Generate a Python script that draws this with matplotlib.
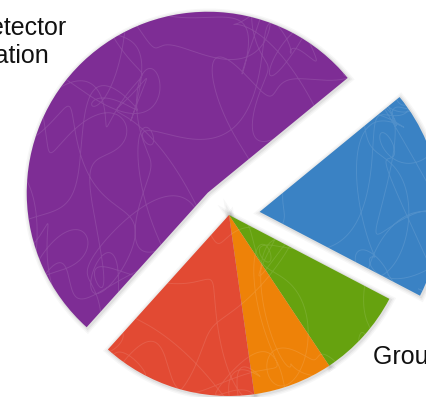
"""Share of group time, pie with two pulled-out slices."""

import matplotlib
matplotlib.use("Agg")
import matplotlib.pyplot as plt
from matplotlib.patches import Wedge
import numpy as np

plt.rcParams["font.family"] = ["Liberation Sans", "DejaVu Sans"]

# slices, clockwise from the lower-left edge of the big purple one
shares = [52.4, 18.6, 8.0, 7.1, 13.9]
colors = ["#7E2D95", "#3A82C4", "#66A20F", "#EE8208", "#E24A33"]
pulled = [0.17, 0.17, 0.0, 0.0, 0.0]  # fraction of the radius

detector_label = "Detector\nStation"
group_label = "Group Meetings"

W, H = 427, 397
fig = plt.figure(figsize=(W / 100, H / 100), dpi=100)
ax = fig.add_axes([0, 0, 1, 1])

centre = (229, H - 215)
radius = 181

# pie() takes the explode offset in data units
wedges, _ = ax.pie(
    shares,
    colors=colors,
    explode=[p * radius for p in pulled],
    startangle=-132,
    counterclock=False,
    center=centre,
    radius=radius,
    wedgeprops=dict(linewidth=0, zorder=3),
)

# soft drop shadow under each slice
for w in wedges:
    cx, cy = w.center
    for lw, a in [(6, 0.03), (4, 0.04), (2, 0.06)]:
        ax.add_patch(Wedge((cx + 1, cy - 1), w.r, w.theta1, w.theta2,
                           facecolor="none", edgecolor="k", alpha=a,
                           linewidth=lw, zorder=2))

# faint scribble texture inside the slices
t = np.linspace(0, 160, 24000)
sx = (centre[0] + 190 * np.sin(0.21 * t) + 35 * np.sin(1.7 * t)
      + 14 * np.sin(4.3 * t))
sy = (centre[1] + 190 * np.sin(0.29 * t + 1.0) + 35 * np.cos(2.3 * t)
      + 14 * np.cos(5.1 * t))
for w in wedges:
    line, = ax.plot(sx, sy, color="white", alpha=0.11, linewidth=0.7, zorder=4)
    line.set_clip_path(w)

ax.text(-28, H - 63, detector_label, ha="left", va="baseline",
        fontsize=18, color="#111111", linespacing=1.2)
ax.text(373, H - 364, group_label, ha="left", va="baseline",
        fontsize=18, color="#111111")

ax.set_xlim(0, W)
ax.set_ylim(0, H)
ax.set_aspect("auto")
ax.axis("off")

fig.savefig("out.png", dpi=100)
